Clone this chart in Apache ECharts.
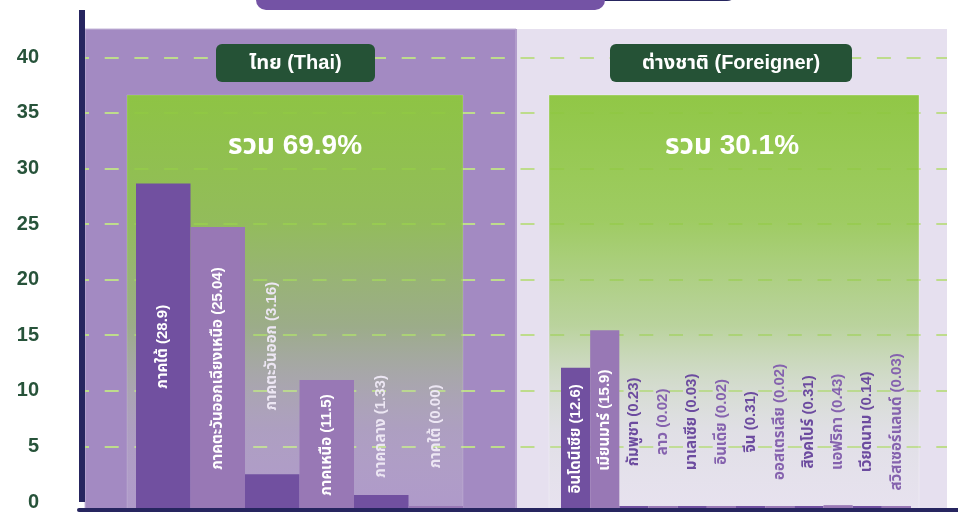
<!DOCTYPE html>
<html>
<head>
<meta charset="utf-8">
<script src="https://cdn.jsdelivr.net/npm/echarts@6/dist/echarts.min.js"></script>
<style>
  html, body { margin: 0; padding: 0; background: #ffffff; }
  #chart { width: 958px; height: 512px; }
</style>
</head>
<body>
<div id="chart"></div>
<script>
// ---- data ----
const thaiRegions = ['ภาคใต้', 'ภาคตะวันออกเฉียงเหนือ', 'ภาคตะวันออก', 'ภาคเหนือ', 'ภาคกลาง', 'ภาคใต้'];
const thaiShares = ['28.9', '25.04', '3.16', '11.5', '1.33', '0.00'];

const foreignCountries = ['อินโดนีเซีย', 'เมียนมาร์', 'กัมพูชา', 'ลาว', 'มาเลเซีย', 'อินเดีย',
  'จีน', 'ออสเตรเลีย', 'สิงคโปร์', 'แอฟริกา', 'เวียดนาม', 'สวิสเซอร์แลนด์'];
const foreignShares = ['12.6', '15.9', '0.23', '0.02', '0.03', '0.02', '0.31', '0.02', '0.31', '0.43', '0.14', '0.03'];

const groupTitles = ['ไทย (Thai)', 'ต่างชาติ (Foreigner)'];
const groupTotals = ['69.9', '30.1'];

const yTickStep = 5;

// ---- styling ----
const FONT = "'Liberation Sans', 'Noto Sans Thai', 'Noto Sans', Arial, sans-serif";
const DARK_BAR = '#7150A0';
const LIGHT_BAR = '#9878B5';
const DARK_TEXT = '#6C4B9F';
const LIGHT_TEXT = '#8562AE';
const NAVY = '#26255F';
const HEADER_GREEN = '#255236';
const Y_MAX = 44.25;
const GRID_TOP = 10;
const GRID_BOTTOM = 2;

// centre level (in axis units) for labels of bars too short to hold them
const thaiLabelLevel = [null, null, 14.5, null, 7.4, 7.4];
const foreignLabelLevel = [null, null, 7.8, 7.8, 7.8, 7.8, 7.8, 7.8, 7.8, 7.8, 7.8, 7.8];

const chart = echarts.init(document.getElementById('chart'), null, { renderer: 'canvas' });

function barSeries(axisIdx, names, shares, levels, outsideColor) {
  return {
    type: 'bar',
    xAxisIndex: axisIdx,
    yAxisIndex: axisIdx,
    barCategoryGap: '0%',
    barMinHeight: 4,
    z: 3,
    data: shares.map((s, i) => ({
      value: Number(s),
      itemStyle: { color: i % 2 ? LIGHT_BAR : DARK_BAR },
      label: { color: levels[i] == null ? '#ffffff' : (outsideColor || (i % 2 ? LIGHT_TEXT : DARK_TEXT)) }
    })),
    label: {
      show: true,
      position: 'inside',
      rotate: 90,
      fontFamily: FONT,
      fontWeight: 'bold',
      fontSize: 15,
      formatter: p => names[p.dataIndex] + ' (' + shares[p.dataIndex] + ')'
    },
    labelLayout: function (params) {
      const lv = levels[params.dataIndex];
      if (lv == null) return {};
      const py = chart.convertToPixel({ yAxisIndex: axisIdx }, lv);
      return {
        x: params.rect.x + params.rect.width / 2,
        y: py,
        align: 'center',
        verticalAlign: 'middle'
      };
    }
  };
}

const hiddenValueY = idx => ({
  type: 'value', gridIndex: idx, min: 0, max: Y_MAX, show: false
});

const greenFade = (bottomMid, bottomEnd) => new echarts.graphic.LinearGradient(0, 0, 0, 1, [
  { offset: 0, color: 'rgba(141,198,63,0.96)' },
  { offset: 0.3, color: 'rgba(143,199,68,0.82)' },
  { offset: 0.55, color: 'rgba(150,200,90,0.55)' },
  { offset: 0.8, color: bottomMid },
  { offset: 1, color: bottomEnd }
]);

const option = {
  backgroundColor: '#ffffff',
  animation: false,
  grid: [
    // main plot: y axis and dashed guides
    { left: 82, right: 11, top: GRID_TOP, bottom: GRID_BOTTOM },
    // Thai regions
    { left: 136, right: 495, top: GRID_TOP, bottom: GRID_BOTTOM },
    // foreign nationals
    { left: 561, right: 47, top: GRID_TOP, bottom: GRID_BOTTOM },
    // baseline across the full width
    { left: 79, right: 0, top: GRID_TOP, bottom: GRID_BOTTOM }
  ],
  xAxis: [
    { type: 'value', gridIndex: 0, min: 0, max: 1, show: false },
    { type: 'category', gridIndex: 1, data: thaiRegions, show: false },
    { type: 'category', gridIndex: 2, data: foreignCountries, show: false },
    {
      type: 'value', gridIndex: 3, min: 0, max: 1, z: 10,
      axisLine: { show: true, lineStyle: { color: NAVY, width: 4 } },
      axisTick: { show: false }, axisLabel: { show: false }, splitLine: { show: false }
    }
  ],
  yAxis: [
    {
      type: 'value', gridIndex: 0, min: 0, max: Y_MAX, interval: yTickStep,
      axisLine: { show: true, lineStyle: { color: NAVY, width: 6, cap: 'butt' } },
      axisTick: { show: false },
      axisLabel: {
        showMaxLabel: false,
        margin: 43,
        color: '#27533A',
        fontFamily: FONT,
        fontWeight: 'bold',
        fontSize: 20
      },
      splitLine: {
        show: true,
        showMinLine: false,
        showMaxLine: false,
        lineStyle: { color: '#BEDC8C', width: 2, type: [14, 15.7], dashOffset: 7 }
      }
    },
    hiddenValueY(1),
    hiddenValueY(2),
    hiddenValueY(3)
  ],
  graphic: [
    // title tab at the top edge
    { type: 'rect', z: 1, shape: { x: 256, y: -30, width: 481, height: 31, r: 10 }, style: { fill: NAVY } },
    { type: 'rect', z: 1, shape: { x: 256, y: -30, width: 349, height: 40, r: 10 }, style: { fill: '#7453A5' } },
    // group panels
    { type: 'rect', z: -5, shape: { x: 85, y: 29, width: 431, height: 490 }, style: { fill: '#A38AC2', stroke: '#C4B6D8', lineWidth: 1 } },
    { type: 'rect', z: -5, shape: { x: 516, y: 29, width: 431, height: 490 }, style: { fill: '#E6E0EF' } },
    { type: 'rect', z: -4, shape: { x: 515, y: 29, width: 2, height: 490 }, style: { fill: '#B29DCB' } },
    // green total boxes
    {
      type: 'rect', z: 1, shape: { x: 127, y: 95, width: 336, height: 420 },
      style: { fill: greenFade('rgba(200,212,190,0.28)', 'rgba(240,238,245,0.15)'), stroke: 'rgba(255,255,255,0.15)', lineWidth: 1 }
    },
    {
      type: 'rect', z: 1, shape: { x: 549, y: 95, width: 370, height: 420 },
      style: { fill: greenFade('rgba(200,220,190,0.2)', 'rgba(240,240,240,0.12)'), stroke: 'rgba(255,255,255,0.3)', lineWidth: 1 }
    },
    // group headers
    { type: 'rect', z: 2, shape: { x: 216, y: 44, width: 159, height: 38, r: 6 }, style: { fill: HEADER_GREEN } },
    { type: 'rect', z: 2, shape: { x: 610, y: 44, width: 242, height: 38, r: 6 }, style: { fill: HEADER_GREEN } },
    {
      type: 'text', z: 3, x: 295.5, y: 63,
      style: { text: groupTitles[0], fill: '#ffffff', font: 'bold 20px ' + FONT, align: 'center', verticalAlign: 'middle' }
    },
    {
      type: 'text', z: 3, x: 731, y: 63,
      style: { text: groupTitles[1], fill: '#ffffff', font: 'bold 20px ' + FONT, align: 'center', verticalAlign: 'middle' }
    },
    // totals
    {
      type: 'text', z: 3, x: 295, y: 146,
      style: { text: 'รวม ' + groupTotals[0] + '%', fill: '#ffffff', font: 'bold 28px ' + FONT, align: 'center', verticalAlign: 'middle' }
    },
    {
      type: 'text', z: 3, x: 732, y: 146,
      style: { text: 'รวม ' + groupTotals[1] + '%', fill: '#ffffff', font: 'bold 28px ' + FONT, align: 'center', verticalAlign: 'middle' }
    }
  ],
  series: [
    barSeries(1, thaiRegions, thaiShares, thaiLabelLevel, '#ECE6F3'),
    barSeries(2, foreignCountries, foreignShares, foreignLabelLevel, null)
  ]
};

chart.setOption(option);
</script>
</body>
</html>
